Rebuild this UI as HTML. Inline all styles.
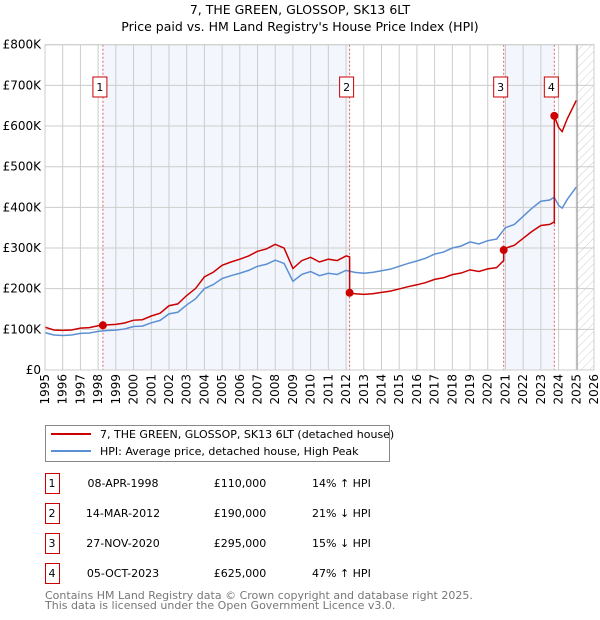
<!DOCTYPE html>
<html><head><meta charset="utf-8"><style>
body{margin:0;background:#fff;}
svg{display:block;font-family:"DejaVu Sans","Liberation Sans",sans-serif;}
</style></head><body>
<svg id="c" width="600" height="620" viewBox="0 0 600 620">
<text x="300" y="14" text-anchor="middle" font-size="12.5">7, THE GREEN, GLOSSOP, SK13 6LT</text>
<text x="300" y="31" text-anchor="middle" font-size="12.5">Price paid vs. HM Land Registry's House Price Index (HPI)</text>
<g id="plot"></g>
<g>
<rect x="45.5" y="425.5" width="344" height="36" fill="#fff" stroke="#888"/>
<line x1="51" y1="434" x2="91" y2="434" stroke="#cc0000" stroke-width="2"/>
<text x="100" y="438" font-size="11">7, THE GREEN, GLOSSOP, SK13 6LT (detached house)</text>
<line x1="51" y1="451" x2="91" y2="451" stroke="#5b8fd4" stroke-width="2"/>
<text x="100" y="455" font-size="11">HPI: Average price, detached house, High Peak</text>
</g>
<g id="tbl"></g>
<text x="45" y="599" font-size="11" fill="#777">Contains HM Land Registry data © Crown copyright and database right 2025.</text>
<text x="45" y="609" font-size="11" fill="#777">This data is licensed under the Open Government Licence v3.0.</text>
</svg>
<script>
const hpiYears=[1995,1995.5,1996,1996.5,1997,1997.5,1998,1998.5,1999,1999.5,2000,2000.5,2001,2001.5,2002,2002.5,2003,2003.5,2004,2004.5,2005,2005.5,2006,2006.5,2007,2007.5,2008,2008.5,2009,2009.5,2010,2010.5,2011,2011.5,2012,2012.5,2013,2013.5,2014,2014.5,2015,2015.5,2016,2016.5,2017,2017.5,2018,2018.5,2019,2019.5,2020,2020.5,2021,2021.5,2022,2022.5,2023,2023.5,2023.75,2024,2024.2,2024.5,2025];
const hpiValues=[92,86,85,86,90,91,95,97,98,101,107,108,116,122,138,142,160,175,200,210,225,232,238,245,255,260,270,262,218,235,242,232,238,235,245,240,238,240,244,248,255,262,268,275,285,290,300,305,315,310,318,322,350,358,378,398,415,418,425,405,398,420,450];
const saleDates=[1998.27,2012.2,2020.9,2023.76];
const salePrices=[110000,190000,295000,625000];
const saleLabels=["08-APR-1998","14-MAR-2012","27-NOV-2020","05-OCT-2023"];
const saleDiffs=["14% \u2191 HPI","21% \u2193 HPI","15% \u2193 HPI","47% \u2191 HPI"];
const yTicks=[0,100,200,300,400,500,600,700,800];
const yTickLabels=["£0","£100K","£200K","£300K","£400K","£500K","£600K","£700K","£800K"];
const xTicks=[1995,1996,1997,1998,1999,2000,2001,2002,2003,2004,2005,2006,2007,2008,2009,2010,2011,2012,2013,2014,2015,2016,2017,2018,2019,2020,2021,2022,2023,2024,2025,2026];

const L=45,R=594,T=44.7,B=370;
const X=y=>L+(y-1995)/(2026-1995)*(R-L);
const Y=v=>B-v/800*(B-T);
const NS="http://www.w3.org/2000/svg";
const g=document.getElementById('plot');
function el(t,a,p){const e=document.createElementNS(NS,t);for(const k in a)e.setAttribute(k,a[k]);(p||g).appendChild(e);return e;}
function hpiAt(t){for(let i=0;i<hpiYears.length-1;i++){if(t<=hpiYears[i+1]){const f=(t-hpiYears[i])/(hpiYears[i+1]-hpiYears[i]);return hpiValues[i]+f*(hpiValues[i+1]-hpiValues[i]);}}return hpiValues[hpiValues.length-1];}

for(let k=0;k<saleDates.length;k+=2){const x1=X(saleDates[k]),x2=X(saleDates[k+1]);
const r=el('rect',{x:x1,y:T,width:x2-x1,height:B-T,fill:'#eef3fc',opacity:0.7});

}
const defs=el('defs',{});
const pat=el('pattern',{id:'h',width:6,height:6,patternUnits:'userSpaceOnUse',patternTransform:'rotate(45)'},defs);
el('line',{x1:0,y1:0,x2:0,y2:6,stroke:'#ccc','stroke-width':1},pat);
const hr=el('rect',{x:X(2025.05),y:T,width:R-X(2025.05),height:B-T,fill:'url(#h)'});


yTicks.forEach((v,i)=>{const y=Y(v);
const gl=el('line',{x1:L,x2:R,y1:y,y2:y,stroke:'#ccc'});


const t=el('text',{x:L-4,y:y+4,'text-anchor':'end','font-size':12});t.textContent=yTickLabels[i];

});
xTicks.forEach(yr=>{const x=X(yr);
const gl=el('line',{x1:x,x2:x,y1:T,y2:B,stroke:'#ccc'});


const t=el('text',{x:0,y:0,'text-anchor':'end','font-size':12,transform:`translate(${x+4},${B+4}) rotate(-90)`});t.textContent=yr;

});
el('line',{x1:X(2025.05),x2:X(2025.05),y1:T,y2:B,stroke:'#999'});
saleDates.forEach((d,i)=>{const x=X(d);
const vl=el('line',{x1:x,x2:x,y1:T,y2:B,stroke:'#e06060','stroke-dasharray':'2,2'});


const bx=el('rect',{x:x-10,y:77,width:14,height:20,fill:'#fff',stroke:'#cc0000'});


const t=el('text',{x:x-3,y:91,'text-anchor':'middle','font-size':11});t.textContent=i+1;

});
let pts=hpiYears.map((yr,i)=>X(yr)+','+Y(hpiValues[i])).join(' ');
const hl=el('polyline',{points:pts,fill:'none',stroke:'#5b8fd4','stroke-width':1.5});


function ratio(k){return salePrices[k]/1000/hpiAt(saleDates[k]);}
let rp=[];
const segStarts=[1995].concat(saleDates);
for(let s=0;s<segStarts.length;s++){
  const k=Math.max(0,s-1);const rr=ratio(k);
  const a=segStarts[s],b=s+1<segStarts.length?segStarts[s+1]:2025;
  rp.push(X(a)+','+Y(hpiAt(a)*rr));
  hpiYears.forEach((yr,i)=>{if(yr>a&&yr<b)rp.push(X(yr)+','+Y(hpiValues[i]*rr));});
  rp.push(X(b)+','+Y(hpiAt(b)*rr));
}
const pl=el('polyline',{points:rp.join(' '),fill:'none',stroke:'#cc0000','stroke-width':1.5});


saleDates.forEach((d,i)=>{
const c=el('circle',{cx:X(d),cy:Y(salePrices[i]/1000),r:4,fill:'#cc0000'});

});
el('rect',{x:L,y:T,width:R-L,height:B-T,fill:'none',stroke:'#ccc'});
const tb=document.getElementById('tbl');
saleDates.forEach((d,i)=>{const y=483+i*30;
const bx=el('rect',{x:45.5,y:y-9.5,width:14,height:20,fill:'#fff',stroke:'#cc0000'},tb);


const cols=[[52,String(i+1),'middle'],[123,saleLabels[i],'middle'],[240,'£'+salePrices[i].toLocaleString('en-GB'),'middle'],[312,saleDiffs[i],'start']];
cols.forEach(c=>{const t=el('text',{x:c[0],y:y+4,'text-anchor':c[2],'font-size':11},tb);t.textContent=c[1];

});});
</script>
</body></html>
